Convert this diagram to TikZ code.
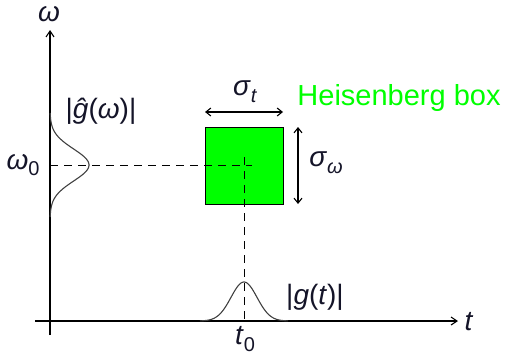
\documentclass[tikz,border=0pt]{standalone}
\usepackage{fontspec}
\setmainfont{Liberation Sans}
\usetikzlibrary{arrows.meta}
\definecolor{hgreen}{RGB}{0,255,0}
\definecolor{lbl}{RGB}{20,20,40}
\newcommand\mysub[1]{\raisebox{-0.45ex}{\fontsize{20}{20}\selectfont #1}}
\begin{document}
\begin{tikzpicture}[x=1pt,y=-1pt,
  axis/.style={line width=1.1pt,-{Straight Barb[length=6pt,width=8pt]}},
  dim/.style={line width=1.1pt,{Straight Barb[length=5pt,width=8pt]}-{Straight Barb[length=5pt,width=8pt]}},
  guide/.style={line width=1pt,dash pattern=on 8pt off 6pt},
  curve/.style={line width=1.1pt,color=black!75},
  lab/.style={font=\fontsize{28}{30}\selectfont,text=lbl,inner sep=0pt}]
\useasboundingbox (0,0) rectangle (505,356);
% axes
\coordinate (ybot) at (50,335);
\coordinate (ytop) at (50,30);
\coordinate (xl) at (35,321);
\coordinate (xr) at (458,321);
\draw[axis] (ybot) -- (ytop);
\draw[axis] (xl) -- (xr);
% box
\node[draw=black,line width=1pt,fill=hgreen,minimum width=78pt,minimum height=77pt,inner sep=0pt] (box) at (244,165.5) {};
% guides
\coordinate (hl) at (50,165);
\coordinate (hr) at (252,165);
\coordinate (vt) at (244,157);
\coordinate (vb) at (244,321);
\draw[guide] (hl) -- (hr);
\draw[guide] (vt) -- (vb);
% gaussians
\draw[curve] plot[domain=113:217,samples=80,smooth] ({50+39*exp(-((\x-165)/16)^2/2)},\x);
\draw[curve] plot[domain=200:288,samples=80,smooth] (\x,{321-39*exp(-((\x-244)/13)^2/2)});
% dimension arrows
\coordinate (st1) at (205,112);
\coordinate (st2) at (283,112);
\draw[dim] (st1) -- (st2);
\coordinate (sw1) at (298,127);
\coordinate (sw2) at (298,204);
\draw[dim] (sw1) -- (sw2);
% labels
\node[lab] (lw) at (49,14) {\textit{ω}};
\node[lab] (lt) at (469,322) {\textit{t}};
\node[lab] (lw0) at (23,165) {\textit{ω}\mysub{0}};
\node[lab] (lt0) at (245,339) {\textit{t}\mysub{0}};
\node[lab] (lgh) at (101,111) {|\textit{\^g}(\textit{ω})|};
\node[lab] (lg) at (315,297) {|\textit{g}(\textit{t})|};
\node[lab] (lst) at (245,92) {\textit{σ}\mysub{\textit{t}}};
\node[lab] (lsw) at (326,163) {\textit{σ}\mysub{\textit{ω}}};
\node[lab,text=hgreen,font=\fontsize{29}{30}\selectfont] (hb) at (399,98) {Heisenberg box};
\end{tikzpicture}
\end{document}
